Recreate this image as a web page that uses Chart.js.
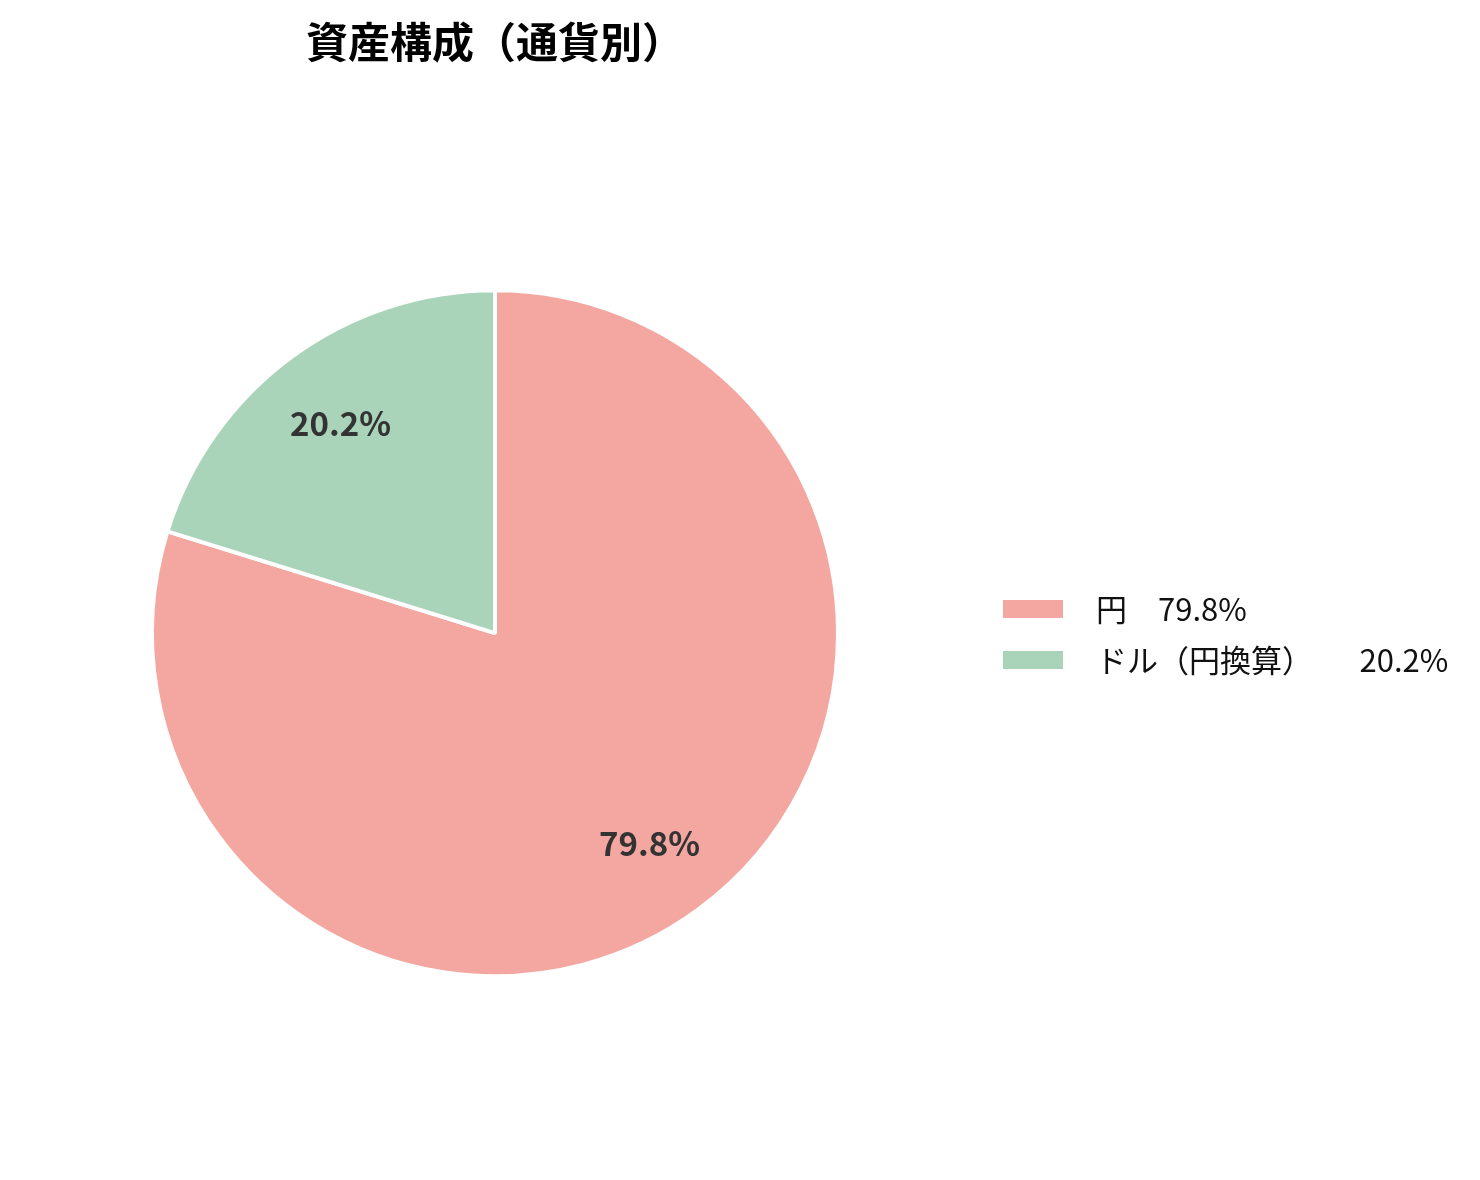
<!DOCTYPE html>
<html>
<head>
<meta charset="utf-8">
<script src="https://cdn.jsdelivr.net/npm/chart.js@4"></script>
<style>
  html, body { margin: 0; padding: 0; background: #fff; }
  #wrap { width: 1480px; height: 1180px; }
</style>
</head>
<body>
<div id="wrap"><canvas id="graph1"></canvas></div>
<script>
const labels = ['円', 'ドル（円換算）'];
const shares = [79.8, 20.2];
const colors = ['#F4A7A1', '#A9D4BA'];
const legendGaps = ['　', '　　'];
const titleText = '資産構成（通貨別）';
const jpFont = '"Noto Sans CJK JP", "Noto Sans", sans-serif';

// percent labels inside the slices
const sliceLabels = {
    id: 'sliceLabels',
    afterDatasetsDraw(chart) {
        const ctx = chart.ctx;
        const meta = chart.getDatasetMeta(0);
        ctx.save();
        ctx.font = 'bold 33px ' + jpFont;
        ctx.fillStyle = '#333333';
        ctx.textAlign = 'center';
        ctx.textBaseline = 'middle';
        meta.data.forEach(function(arc, i) {
            const p = arc.getProps(['x', 'y', 'startAngle', 'endAngle', 'outerRadius'], true);
            const mid = (p.startAngle + p.endAngle) / 2;
            const r = p.outerRadius * 0.76;
            ctx.fillText(shares[i].toFixed(1) + '%', p.x + Math.cos(mid) * r, p.y + Math.sin(mid) * r);
        });
        ctx.restore();
    }
};

// legend on the right
const sideLegend = {
    id: 'sideLegend',
    afterDraw(chart) {
        const ctx = chart.ctx;
        ctx.save();
        ctx.font = '31px ' + jpFont;
        ctx.textBaseline = 'middle';
        ctx.textAlign = 'left';
        labels.forEach(function(lab, i) {
            const y = 609 + i * 51;
            ctx.fillStyle = colors[i];
            ctx.fillRect(1003, y - 9, 60, 18);
            ctx.fillStyle = '#111111';
            ctx.fillText(lab + legendGaps[i] + shares[i].toFixed(1) + '%', 1096, y);
        });
        ctx.restore();
    }
};

const config = {
    type: 'pie',
    data: {
        labels: labels,
        datasets: [{
            data: shares,
            backgroundColor: colors,
            borderColor: '#ffffff',
            borderWidth: 4,
            radius: 343
        }]
    },
    options: {
        responsive: true,
        maintainAspectRatio: false,
        animation: false,
        layout: { padding: { left: 0, right: 490, top: 0, bottom: 0 } },
        plugins: {
            legend: { display: false },
            tooltip: { enabled: false },
            title: {
                display: true,
                text: titleText,
                color: '#000000',
                font: { family: jpFont, size: 42, weight: 'bold' },
                padding: { top: 17, bottom: 19 }
            }
        }
    },
    plugins: [sliceLabels, sideLegend]
};

new Chart(document.querySelector('#graph1'), config);
</script>
</body>
</html>
